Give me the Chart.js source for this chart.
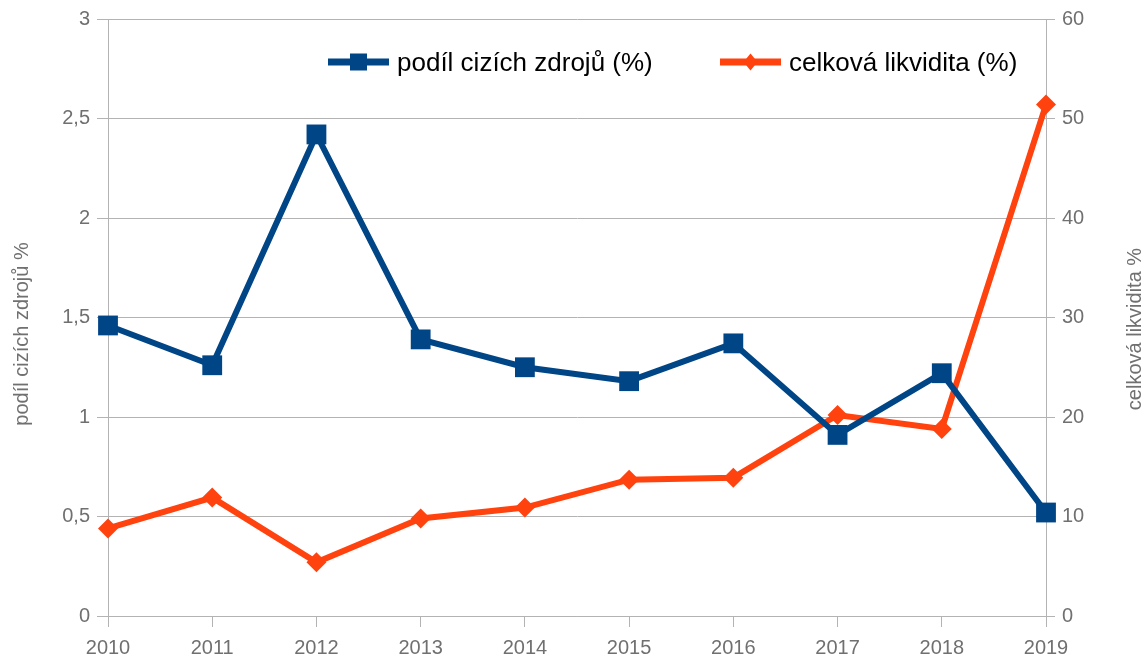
<!DOCTYPE html>
<html>
<head>
<meta charset="utf-8">
<script src="https://cdn.jsdelivr.net/npm/chart.js@4/dist/chart.umd.min.js"></script>
<style>
html,body{margin:0;padding:0;background:#fff;}
#wrap{width:1147px;height:661px;}
</style>
</head>
<body>
<div id="wrap"><canvas id="c" width="1147" height="661"></canvas></div>
<script>
const years = ['2010','2011','2012','2013','2014','2015','2016','2017','2018','2019'];
const podilCizichZdroju = [1.46, 1.26, 2.42, 1.39, 1.25, 1.18, 1.37, 0.91, 1.22, 0.52];
const celkovaLikvidita = [8.8, 11.9, 5.4, 9.8, 10.9, 13.7, 13.9, 20.2, 18.8, 51.4];
const seriesNames = ['podíl cizích zdrojů (%)', 'celková likvidita (%)'];
const axisTitles = ['podíl cizích zdrojů %', 'celková likvidita %'];

const BLUE = '#004586';
const ORANGE = '#ff420e';
const GRID = '#b3b3b3';
const TICK = '#707070';
const FONT = '"Liberation Sans", Arial, sans-serif';

const extras = {
  id: 'extras',
  afterDraw(chart) {
    const ctx = chart.ctx;
    ctx.save();
    // axis titles
    ctx.fillStyle = TICK;
    ctx.font = '20px ' + FONT;
    ctx.textAlign = 'center';
    ctx.textBaseline = 'middle';
    ctx.save();
    ctx.translate(22, 334);
    ctx.rotate(-Math.PI / 2);
    ctx.fillText(axisTitles[0], 0, 0);
    ctx.restore();
    ctx.save();
    ctx.translate(1135, 329);
    ctx.rotate(-Math.PI / 2);
    ctx.fillText(axisTitles[1], 0, 0);
    ctx.restore();

    // legend
    const y = 62;
    const items = [
      {x0: 328, x1: 389, color: BLUE, shape: 'rect', tx: 397, label: seriesNames[0]},
      {x0: 720, x1: 781, color: ORANGE, shape: 'diamond', tx: 789, label: seriesNames[1]}
    ];
    items.forEach(it => {
      ctx.strokeStyle = it.color;
      ctx.fillStyle = it.color;
      ctx.lineWidth = 7;
      ctx.beginPath();
      ctx.moveTo(it.x0, y);
      ctx.lineTo(it.x1, y);
      ctx.stroke();
      const cx = (it.x0 + it.x1) / 2;
      if (it.shape === 'rect') {
        ctx.fillRect(cx - 8.5, y - 8.5, 17, 17);
      } else {
        ctx.beginPath();
        ctx.moveTo(cx, y - 8.5);
        ctx.lineTo(cx + 7, y);
        ctx.lineTo(cx, y + 8.5);
        ctx.lineTo(cx - 7, y);
        ctx.closePath();
        ctx.fill();
      }
      ctx.fillStyle = '#000';
      ctx.font = '26px ' + FONT;
      ctx.textAlign = 'left';
      ctx.textBaseline = 'middle';
      ctx.fillText(it.label, it.tx, y + 2);
    });
    ctx.restore();
  }
};

new Chart(document.getElementById('c'), {
  type: 'line',
  data: {
    labels: years,
    datasets: [
      {
        label: seriesNames[0],
        data: podilCizichZdroju,
        yAxisID: 'y',
        borderColor: BLUE,
        backgroundColor: BLUE,
        borderWidth: 6,
        pointStyle: 'rect',
        pointRadius: 14,
        pointHoverRadius: 14,
        pointBorderWidth: 0,
        tension: 0,
        fill: false
      },
      {
        label: seriesNames[1],
        data: celkovaLikvidita,
        yAxisID: 'y1',
        borderColor: ORANGE,
        backgroundColor: ORANGE,
        borderWidth: 6,
        pointStyle: 'rectRot',
        pointRadius: 10,
        pointHoverRadius: 10,
        pointBorderWidth: 0,
        tension: 0,
        fill: false
      }
    ]
  },
  options: {
    responsive: false,
    animation: false,
    devicePixelRatio: 1,
    layout: { padding: { top: 15, left: 0, right: 0, bottom: 0 } },
    plugins: { legend: { display: false }, tooltip: { enabled: false } },
    scales: {
      x: {
        offset: false,
        afterFit(s) { s.height = 45; },
        grid: { display: true, drawOnChartArea: false, drawTicks: true, tickLength: 11, color: GRID, lineWidth: 1 },
        border: { display: true, color: GRID },
        ticks: { color: TICK, font: { family: FONT, size: 20 }, padding: 9, maxRotation: 0, autoSkip: false }
      },
      y: {
        position: 'left',
        min: 0, max: 3,
        afterFit(s) { s.width = 108; },
        grid: { color: GRID, tickLength: 11, lineWidth: 1 },
        border: { display: true, color: GRID },
        ticks: {
          stepSize: 0.5,
          color: TICK,
          font: { family: FONT, size: 20 },
          padding: 7,
          callback: v => String(v).replace('.', ',')
        }
      },
      y1: {
        position: 'right',
        min: 0, max: 60,
        afterFit(s) { s.width = 101; },
        grid: { drawOnChartArea: false, color: GRID, tickLength: 9 },
        border: { display: true, color: GRID },
        ticks: { stepSize: 10, color: TICK, font: { family: FONT, size: 20 }, padding: 7 }
      }
    }
  },
  plugins: [extras]
});
</script>
</body>
</html>
